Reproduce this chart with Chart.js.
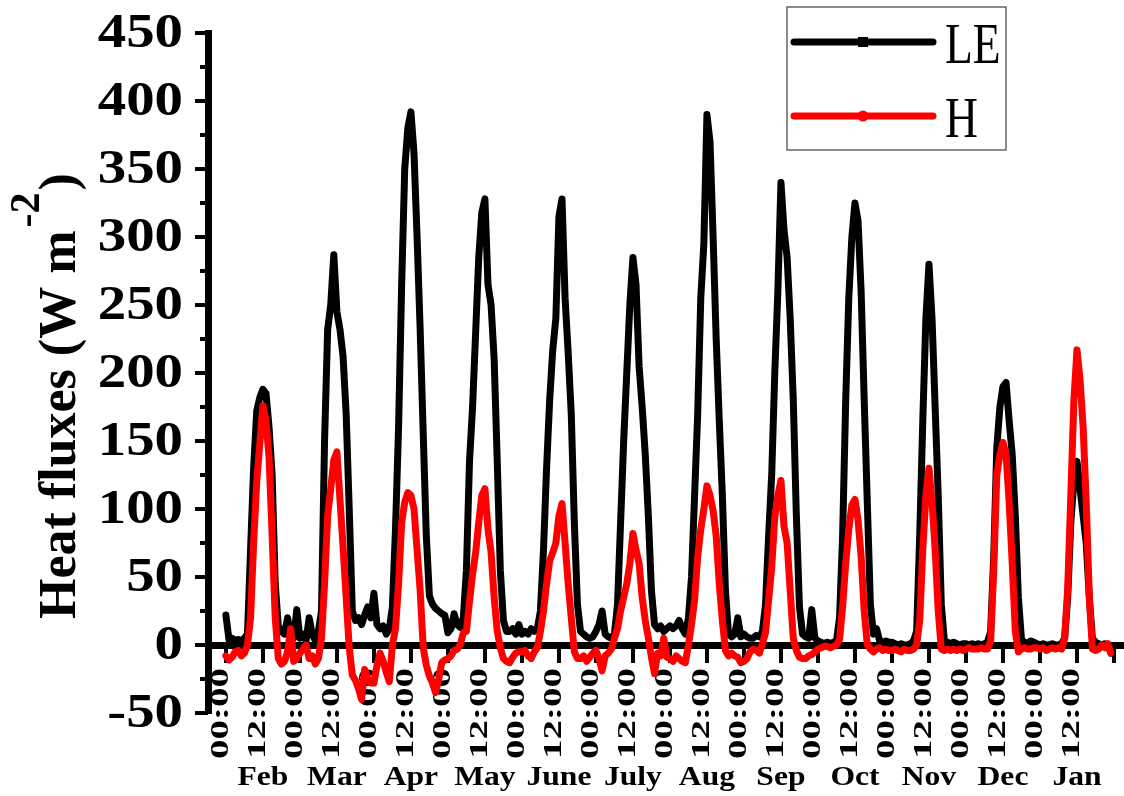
<!DOCTYPE html>
<html>
<head>
<meta charset="utf-8">
<script src="https://cdn.jsdelivr.net/npm/chart.js@4/dist/chart.umd.min.js"></script>
<style>
  html, body { margin: 0; padding: 0; background: #fff; }
  canvas { display: block; }
</style>
</head>
<body>
<canvas id="chart" width="1124" height="796"></canvas>
<script>
// Mean diurnal cycle for each month, one value per hour (00:00 ... 23:00), W m-2
const months = ['Feb', 'Mar', 'Apr', 'May', 'June', 'July', 'Aug', 'Sep', 'Oct', 'Nov', 'Dec', 'Jan'];
const hourLabels = ['00:00', '12:00'];
const seriesNames = ['LE', 'H'];
const yTickValues = [-50, 0, 50, 100, 150, 200, 250, 300, 350, 400, 450];

// latent heat flux
const leFlux = [
  22, 4, 5, 3, 4, 3, 5, 8, 70, 130, 172, 182, 188, 185, 160, 125, 45, 14, 10, 8, 20, 8, 5, 26,            // Feb
  5, 8, 3, 20, 8, 3, 10, 25, 150, 232, 250, 287, 245, 232, 212, 170, 100, 25, 18, 20, 15, 22, 28, 20,     // Mar
  38, 15, 12, 14, 8, 12, 28, 85, 160, 265, 350, 380, 392, 362, 300, 232, 155, 80, 36, 30, 27, 25, 23, 22,  // Apr
  9, 12, 23, 15, 13, 20, 55, 135, 175, 230, 285, 318, 328, 265, 250, 210, 135, 55, 18, 10, 10, 12, 8, 15,  // May
  8, 10, 8, 12, 10, 12, 25, 70, 130, 180, 217, 240, 315, 328, 255, 215, 170, 90, 30, 10, 8, 6, 5, 6,       // June
  10, 15, 25, 8, 6, 5, 8, 30, 90, 150, 200, 250, 285, 265, 205, 175, 140, 95, 40, 15, 12, 14, 10, 12,     // July
  14, 12, 14, 18, 12, 8, 20, 50, 110, 170, 255, 295, 390, 370, 300, 225, 165, 110, 40, 8, 6, 8, 20, 6,    // Aug
  8, 6, 5, 5, 7, 6, 10, 30, 80, 125, 200, 260, 340, 305, 285, 240, 180, 95, 28, 8, 6, 5, 26, 5,           // Sep
  3, 2, 1, 2, 1, 2, 3, 20, 80, 180, 255, 300, 325, 312, 260, 180, 105, 30, 8, 12, 3, 2, 3, 2,             // Oct
  2, 1, 0, 1, 0, 0, 1, 3, 10, 80, 165, 240, 280, 240, 175, 110, 30, 3, 2, 1, 2, 1, 0, 1,                  // Nov
  1, 0, 1, 0, 1, 0, 1, 2, 10, 65, 145, 175, 190, 193, 165, 140, 95, 35, 4, 2, 1, 3, 2, 1,                 // Dec
  0, 1, 0, 0, 1, 0, 0, 1, 5, 35, 90, 120, 135, 115, 95, 75, 35, 5, 2, 1, 0, 1, 0, -6                      // Jan
];

// sensible heat flux
const hFlux = [
  -8, -11, -9, -5, -4, -8, -6, 0, 20, 75, 120, 148, 176, 165, 138, 80, 20, -10, -14, -12, -5, 12, -12, -10,      // Feb
  -6, -3, 0, -10, -8, -14, -10, 5, 45, 95, 115, 136, 142, 107, 72, 35, -2, -22, -26, -32, -40, -18, -24, -28,     // Mar
  -28, -15, -6, -12, -20, -27, 0, 12, 45, 90, 105, 112, 110, 100, 70, 40, -2, -15, -23, -28, -35, -25, -13, -11,  // Apr
  -10, -8, -4, -3, 0, 9, 10, 32, 52, 68, 90, 110, 115, 85, 68, 35, 10, -2, -10, -12, -13, -9, -6, -5,             // May
  -5, -4, -8, -10, -5, -2, 10, 25, 45, 62, 68, 75, 95, 104, 75, 45, 20, -5, -10, -10, -8, -12, -9, -6,            // June
  -4, -10, -19, -8, -6, -3, 5, 12, 25, 35, 45, 60, 82, 70, 60, 35, 18, 5, -9, -21, -6, -8, 5, -9,                 // July
  -10, -12, -8, -10, -12, -13, 0, 15, 33, 65, 85, 100, 117, 110, 99, 80, 45, 18, -4, -8, -6, -8, -9, -13,         // Aug
  -12, -10, -5, -3, -4, -6, 1, 9, 33, 57, 94, 110, 121, 87, 75, 40, 5, -4, -9, -10, -10, -8, -7, -5,              // Sep
  -3, -2, -1, -1, -2, -1, 0, 4, 28, 60, 85, 103, 107, 92, 65, 25, 0, -3, -5, -3, -2, -4, -3, -4,                  // Oct
  -4, -3, -4, -5, -3, -4, -4, -3, 0, 18, 70, 110, 130, 105, 70, 25, -3, -4, -3, -4, -3, -4, -3, -4,               // Nov
  -3, -2, -3, -3, -3, -2, -3, -3, 3, 55, 125, 140, 149, 140, 105, 60, 10, -5, -3, -2, -3, -3, -2, -2,             // Dec
  -3, -2, -4, -3, -2, -3, -2, -3, 5, 42, 110, 180, 217, 195, 160, 105, 35, -3, -4, -3, 0, -2, 1, -6               // Jan
];

const HOURS = 24;
const xMin = -5.8, xMax = 290.6;
const serif = 'Liberation Serif';

const toPoints = arr => arr.map((v, i) => ({ x: i, y: v }));

// text drawn with a horizontal stretch factor (sx) in its own frame
function stretchedText(ctx, text, x, y, o) {
  ctx.save();
  ctx.translate(x, y);
  if (o.angle) ctx.rotate(o.angle);
  ctx.font = o.font;
  const sx = o.length ? o.length / ctx.measureText(text).width : o.sx;
  ctx.scale(sx, 1);
  ctx.textAlign = o.align;
  ctx.textBaseline = o.baseline;
  ctx.fillStyle = '#000';
  ctx.fillText(text, 0, 0);
  ctx.restore();
}

const noPadding = s => {
  s.paddingTop = 0; s.paddingBottom = 0; s.paddingLeft = 0; s.paddingRight = 0;
};

// tick labels, y tick marks, month names and the y title
const axisText = {
  id: 'axisText',
  beforeDatasetsDraw(chart) {
    const ctx = chart.ctx;
    const xs = chart.scales.x, ys = chart.scales.y;
    const zero = ys.getPixelForValue(0);
    const axisX = chart.chartArea.left;

    // y tick marks: long at every 50, short in between
    ctx.save();
    ctx.strokeStyle = '#000';
    ctx.lineWidth = 4;
    for (let v = ys.min; v <= ys.max; v += 25) {
      const py = ys.getPixelForValue(v);
      const len = v % 50 === 0 ? 13 : 8;
      ctx.beginPath();
      ctx.moveTo(axisX, py);
      ctx.lineTo(axisX - len, py);
      ctx.stroke();
    }
    ctx.restore();

    // hour labels below the zero line, reading upwards
    xs.ticks.forEach(t => {
      if (t.value >= months.length * HOURS) return;
      const label = hourLabels[(t.value % HOURS) / (HOURS / 2)];
      stretchedText(ctx, label, xs.getPixelForValue(t.value) - 4, zero + 23, {
        font: 'bold 25px "' + serif + '"', length: 91, angle: -Math.PI / 2, align: 'right', baseline: 'middle'
      });
    });

    // value labels on the y axis
    yTickValues.forEach(v => {
      stretchedText(ctx, String(v), axisX - 25, ys.getPixelForValue(v) + 1, {
        font: 'bold 49px "' + serif + '"', sx: 1.16, align: 'right', baseline: 'middle'
      });
    });

    // month names under the hour labels
    months.forEach((m, i) => {
      stretchedText(ctx, m, xs.getPixelForValue(i * HOURS + HOURS / 2), chart.chartArea.bottom + 72, {
        font: 'bold 27px "' + serif + '"', sx: 1.17, align: 'center', baseline: 'alphabetic'
      });
    });

    // y title with a raised "-2"
    ctx.save();
    ctx.translate(75, 619);
    ctx.rotate(-Math.PI / 2);
    ctx.fillStyle = '#000';
    ctx.textBaseline = 'alphabetic';
    ctx.textAlign = 'left';
    ctx.font = 'bold 52px "' + serif + '"';
    const main = 'Heat fluxes (W m';
    ctx.fillText(main, 0, 0);
    let w = ctx.measureText(main).width + 3;
    ctx.font = 'bold 42px "' + serif + '"';
    ctx.fillText('-2', w, -36);
    w += ctx.measureText('-2').width + 2;
    ctx.font = 'bold 52px "' + serif + '"';
    ctx.fillText(')', w, 0);
    ctx.restore();
  }
};

// boxed legend in the upper right corner
const boxLegend = {
  id: 'boxLegend',
  afterDraw(chart) {
    const ctx = chart.ctx;
    const left = 787, top = 7, w = 219, h = 143;
    ctx.save();
    ctx.fillStyle = '#fff';
    ctx.fillRect(left, top, w, h);
    ctx.strokeStyle = '#666';
    ctx.lineWidth = 1.5;
    ctx.strokeRect(left, top, w, h);
    chart.data.datasets.forEach((ds, i) => {
      const y = top + 35 + i * 74;
      ctx.strokeStyle = ds.borderColor;
      ctx.fillStyle = ds.borderColor;
      ctx.lineWidth = 7;
      ctx.lineCap = 'round';
      ctx.beginPath();
      ctx.moveTo(left + 7, y);
      ctx.lineTo(left + 146, y);
      ctx.stroke();
      const mx = left + 76;
      if (ds.pointStyle === 'rect') {
        ctx.fillRect(mx - 5, y - 5, 10, 10);
      } else {
        ctx.beginPath();
        ctx.arc(mx, y, 5.5, 0, Math.PI * 2);
        ctx.fill();
      }
      stretchedText(ctx, ds.label, left + 158, y + 21, {
        font: '57px "' + serif + '"', sx: 0.8, align: 'left', baseline: 'alphabetic'
      });
    });
    ctx.restore();
  }
};

const lineStyle = {
  borderWidth: 7,
  pointRadius: 0,
  tension: 0,
  borderJoinStyle: 'round',
  borderCapStyle: 'round'
};

new Chart(document.getElementById('chart'), {
  type: 'line',
  data: {
    datasets: [
      Object.assign({ label: seriesNames[0], data: toPoints(leFlux), borderColor: '#000000', pointStyle: 'rect', order: 2 }, lineStyle),
      Object.assign({ label: seriesNames[1], data: toPoints(hFlux), borderColor: '#ff0000', pointStyle: 'circle', order: 1 }, lineStyle)
    ]
  },
  options: {
    responsive: false,
    animation: false,
    devicePixelRatio: 1,
    layout: { padding: { top: 33, right: 2, left: 0, bottom: 83 } },
    plugins: { legend: { display: false }, tooltip: { enabled: false } },
    scales: {
      x: {
        type: 'linear',
        position: { y: 0 },
        min: xMin,
        max: xMax,
        afterBuildTicks: scale => {
          const t = [];
          for (let v = 0; v <= months.length * HOURS; v += HOURS / 2) t.push({ value: v });
          scale.ticks = t;
        },
        afterFit: noPadding,
        ticks: { display: false, autoSkip: false },
        grid: { drawOnChartArea: false, tickLength: 14, lineWidth: 4, color: '#000' },
        border: { width: 7, color: '#000' }
      },
      y: {
        min: -50,
        max: 450,
        afterFit: scale => { scale.width = 208; noPadding(scale); },
        ticks: { display: false, stepSize: 25 },
        grid: { drawOnChartArea: false, drawTicks: false },
        border: { width: 7, color: '#000' }
      }
    }
  },
  plugins: [axisText, boxLegend]
});
</script>
</body>
</html>
